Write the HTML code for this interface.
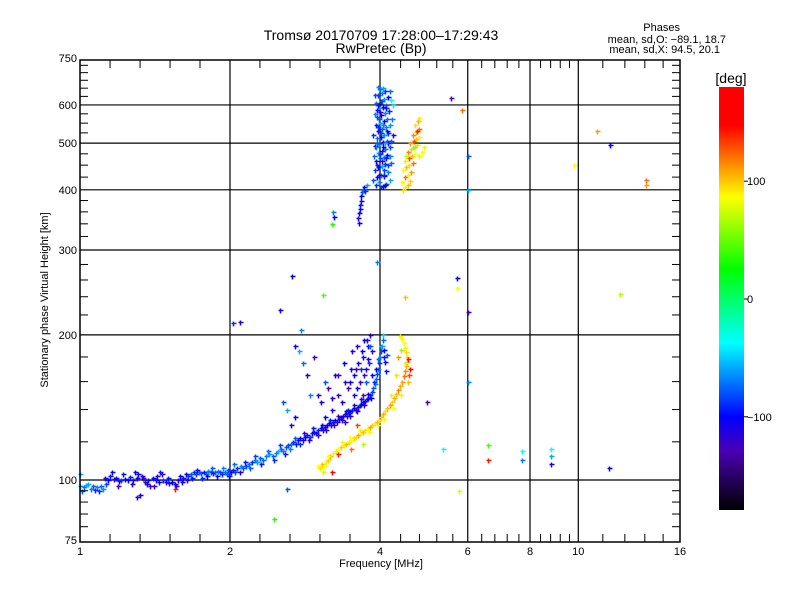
<!DOCTYPE html>
<html><head><meta charset="utf-8">
<style>
body{margin:0;background:#fff;}
svg{display:block;font-family:"Liberation Sans","DejaVu Sans",sans-serif;}
</style></head>
<body>
<svg id="chart" width="800" height="600" viewBox="0 0 800 600" xmlns="http://www.w3.org/2000/svg">
<rect width="800" height="600" fill="#fff"/>
<text x="381" y="40" font-size="14" text-anchor="middle">Tromsø 20170709 17:28:00–17:29:43</text>
<text x="381" y="53" font-size="14" text-anchor="middle">RwPretec (Bp)</text>
<g font-size="11" text-anchor="end">
<text x="680" y="31">Phases</text>
<text x="726" y="43">mean, sd,O: −89.1, 18.7</text>
<text x="720" y="53">mean, sd,X:  94.5, 20.1</text>
</g>
<g id="grid"></g>
<g id="points"></g>
<g id="axes"></g>
<text x="381" y="567" font-size="11" text-anchor="middle">Frequency [MHz]</text>
<text transform="translate(48,300) rotate(-90)" font-size="11" text-anchor="middle">Stationary phase Virtual Height [km]</text>
<defs><linearGradient id="cb" x1="0" y1="1" x2="0" y2="0">
<stop offset="0" stop-color="#000"/><stop offset="0.14" stop-color="#4a00b4"/><stop offset="0.22" stop-color="#0000ff"/>
<stop offset="0.395" stop-color="#00ffff"/><stop offset="0.57" stop-color="#00ff00"/><stop offset="0.74" stop-color="#ffff00"/>
<stop offset="0.80" stop-color="#ffa500"/><stop offset="0.91" stop-color="#ff0000"/><stop offset="1" stop-color="#ff0000"/>
</linearGradient></defs>
<rect x="719" y="87" width="25" height="423" fill="url(#cb)"/>
<text x="731" y="83" font-size="14" text-anchor="middle">[deg]</text>
<g id="cbticks" font-size="11"></g>
</svg>
<script>
const xTicks=[1,2,4,6,8,10,16];
const xMinor=[1.149,1.32,1.516,1.741,2.297,2.639,3.031,3.482,4.4,4.8,5.2,5.6,6.4,6.8,7.2,7.6,8.4,8.8,9.2,9.6,11.2,12.4,13.6,14.8];
const yTicks=[75,100,200,300,400,500,600,750];
const yMinor=[80,85,90,95,120,140,160,180,220,240,260,280,320,340,360,380,425,450,475,525,550,575,625,650,675,700,725];
const cbTicks=[100,0,-100];
const eLayerO=[[1.00,97,-70],[1.02,96.5,-75],[1.03,97.5,-60],[1.05,96,-72],[1.06,97,-80],[1.08,96.5,-70],[1.09,95,-90],[1.10,97,-75],[1.11,96,-65],[1.13,98,-85],[1.14,100,-100],[1.15,102,-95],[1.17,100.5,-110],[1.18,101,-100],[1.20,99.5,-105],[1.21,100,-90],[1.23,100.5,-110],[1.25,100,-105],[1.26,101.5,-95],[1.28,100,-110],[1.30,101,-100],[1.31,103,-105],[1.33,102,-110],[1.35,99,-115],[1.36,98,-110],[1.38,97,-120],[1.40,101,-105],[1.42,100,-100],[1.43,102,-110],[1.45,104,-95],[1.47,100,-90],[1.49,99,-105],[1.51,98.5,-110],[1.53,99,-100],[1.55,98,-105],[1.57,100,-110],[1.59,102,-100],[1.61,101,-95],[1.63,103,-105],[1.65,102,-90],[1.67,103,-80],[1.69,104,-90],[1.71,103,-85],[1.73,104,-75],[1.75,103.5,-85],[1.77,104,-95],[1.79,103,-80],[1.81,104.5,-70],[1.83,104,-85],[1.85,103.5,-95],[1.87,104,-80],[1.89,104.5,-70],[1.91,104,-85],[1.93,103,-90],[1.95,104,-75],[1.97,103,-80],[1.99,102,-95],[2.01,104,-100],[2.03,105,-95],[2.05,104,-85],[2.07,106,-90],[2.10,107,-70],[2.12,106,-80],[2.15,107,-85],[2.18,108,-75],[2.21,109,-90],[2.24,110,-70],[2.27,109,-65],[2.30,111,-80],[2.33,110,-75],[2.36,112,-70],[2.40,113,-65],[2.44,112,-80],[2.47,114,-70],[2.50,115,-60],[2.53,116,-75],[2.56,115,-70],[2.59,117,-80],[2.62,118,-85],[2.65,119,-75],[2.68,120,-90],[2.71,119,-95],[2.74,121,-100],[2.77,122,-105],[2.80,121,-110],[2.83,123,-100],[2.86,124,-95],[2.89,123,-90],[2.92,125,-105],[2.95,126,-110],[2.98,125,-100],[3.01,127,-95],[3.04,128,-105],[3.07,127,-115],[3.10,129,-110],[3.13,130,-100],[3.16,131,-105],[3.19,130,-110],[3.22,132,-115],[3.25,133,-105],[3.28,132,-110],[3.31,134,-100],[3.34,135,-105],[3.37,136,-110],[3.40,137,-115],[3.43,136,-105],[3.46,138,-110],[3.49,139,-100],[3.52,140,-95],[3.55,141,-105],[3.58,140,-110],[3.61,142,-100],[3.64,143,-95],[3.67,144,-105],[3.70,145,-110],[3.73,146,-100],[3.76,147,-95],[3.79,148,-100],[3.82,150,-90],[3.85,152,-85],[3.88,155,-80],[3.90,158,-70],[3.92,162,-75],[3.94,166,-85],[3.96,170,-65],[3.98,175,-90],[4.00,180,-70],[4.02,185,-85],[4.04,190,-60],[4.06,195,-75],[4.08,186,-100],[4.10,176,-110],[4.12,168,-95],[4.05,200,-50]];
const eLayerOExtra=[[1.01,95,-80],[1.04,98,-60],[1.07,95.5,-90],[1.12,101,-110],[1.16,104,-100],[1.19,97,-120],[1.22,103,-95],[1.27,98,-115],[1.29,104,-100],[1.34,101,-120],[1.37,100,-100],[1.41,97,-125],[1.44,99,-110],[1.46,103,-120],[1.50,101,-95],[1.56,97,-110],[1.60,99,-105],[1.64,100,-120],[1.68,101,-95],[1.72,105,-110],[1.76,101,-90],[1.80,102,-100],[1.84,106,-80],[1.88,102,-100],[1.94,106,-70],[1.98,105,-85],[2.04,108,-75],[2.09,104,-110],[2.14,109,-95],[2.19,106,-80],[2.25,112,-85],[2.31,108,-95],[2.38,115,-75],[2.45,110,-90],[2.52,118,-85],[2.58,113,-95],[2.64,116,-70],[2.70,122,-80],[2.76,119,-90],[2.82,125,-115],[2.88,121,-120],[2.94,128,-95],[3.00,124,-120],[3.06,130,-100],[3.12,127,-120],[3.18,133,-95],[3.24,130,-125],[3.30,136,-115],[3.36,133,-120],[3.42,139,-100],[3.48,136,-120],[3.54,143,-115],[3.60,139,-125],[3.66,147,-110],[3.72,143,-120],[3.78,151,-110],[3.84,148,-100],[3.89,160,-90],[3.93,170,-100],[3.97,178,-75],[4.01,190,-60],[4.07,180,-95],[4.14,182,-80]];
const eScatter=[[3.0,150,-120],[3.05,145,-110],[3.1,160,-80],[3.15,155,-130],[3.2,140,-120],[3.25,165,-100],[3.3,150,-125],[3.35,145,-110],[3.38,175,-100],[3.4,160,-120],[3.45,155,-130],[3.5,170,-110],[3.52,185,-115],[3.55,165,-100],[3.6,190,-120],[3.62,175,-105],[3.65,160,-125],[3.7,180,-110],[3.72,195,-100],[3.75,170,-115],[3.78,190,-105],[3.8,175,-90],[3.82,200,-110],[3.85,185,-120],[3.7,150,-130],[3.6,155,-100],[3.45,140,-95],[3.3,165,-130],[3.2,148,-110],[3.1,135,-100],[3.55,150,-110],[3.75,160,-80],[3.85,165,-100],[3.4,132,-120],[2.9,150,-70],[2.85,165,-110],[2.8,175,-75],[2.75,185,-60],[2.7,135,-100],[2.65,130,-120],[2.6,140,-60],[2.55,145,-80],[2.95,180,-125],[2.78,205,-70],[2.7,190,-110],[3.66,170,-90],[3.72,165,-120],[3.78,178,-110],[3.82,190,-80],[3.76,195,-120],[3.68,185,-100],[3.58,170,-120],[3.48,160,-100]];
const eLayerX=[[3.0,107,90],[3.03,106,100],[3.06,108,110],[3.09,107,85],[3.12,109,95],[3.15,110,105],[3.18,112,120],[3.22,114,95],[3.26,115,100],[3.30,116,90],[3.34,117,105],[3.38,118,95],[3.42,119,110],[3.46,120,100],[3.50,121,90],[3.54,122,105],[3.58,123,100],[3.62,124,115],[3.66,125,95],[3.70,126,110],[3.74,127,100],[3.78,128,90],[3.82,129,120],[3.86,130,105],[3.90,131,95],[3.94,132,110],[3.98,133,100],[4.02,135,105],[4.06,137,115],[4.10,139,100],[4.14,141,110],[4.18,143,120],[4.22,145,105],[4.26,148,115],[4.30,151,110],[4.34,154,125],[4.38,157,115],[4.42,160,120],[4.46,164,130],[4.50,168,125],[4.52,172,115],[4.53,176,110],[4.54,180,105],[4.52,184,100],[4.50,188,95],[4.46,192,90],[4.42,196,85],[4.38,199,95],[4.55,178,150],[4.6,170,160],[4.48,175,80],[4.40,186,60],[4.35,180,120],[3.3,113,150],[3.5,116,130],[3.7,119,70],[3.2,104,160],[3.6,130,140],[4.2,150,80],[4.3,165,100],[3.08,104,80],[3.14,112,90],[3.36,120,85],[3.48,123,90],[3.64,127,80],[3.80,126,85],[3.96,130,90],[4.08,134,85],[4.24,141,90],[4.40,150,95],[4.55,160,110],[4.58,165,140]];
const fLayerO=[[3.92,410,-90],[3.98,415,-70],[4.05,408,-100],[4.12,412,-80],[4.18,420,-60],[3.95,425,-100],[4.02,430,-75],[4.08,428,-110],[4.15,435,-70],[3.90,440,-85],[3.97,445,-100],[4.04,448,-60],[4.10,452,-90],[4.20,455,-75],[3.93,460,-110],[4.00,465,-80],[4.07,468,-70],[4.14,472,-100],[3.96,478,-60],[4.03,482,-95],[4.10,485,-75],[4.18,490,-85],[3.91,494,-100],[3.99,498,-70],[4.06,502,-105],[4.13,506,-80],[3.94,512,-75],[4.01,516,-100],[4.08,520,-65],[4.16,525,-90],[3.97,530,-110],[4.04,535,-80],[4.11,540,-70],[3.92,545,-95],[4.00,550,-60],[4.07,556,-100],[4.14,560,-75],[3.95,566,-85],[4.02,572,-105],[4.09,578,-70],[4.17,583,-90],[3.98,590,-60],[4.05,595,-100],[4.12,600,-80],[3.93,606,-75],[4.01,612,-95],[4.08,618,-65],[4.15,622,-100],[3.97,628,-85],[4.04,635,-70],[4.10,640,-90],[4.00,648,-75],[4.06,652,-60],[3.96,600,-110],[4.00,580,-120],[4.04,460,-125],[3.99,430,-115],[4.10,410,-100],[4.02,405,-90],[4.20,615,-40],[4.22,560,-70],[4.25,520,-110],[4.24,600,-45],[3.94,585,-100],[3.96,540,-90],[4.06,490,-100],[4.00,475,-90],[4.12,465,-95],[4.08,440,-85],[3.94,450,-95],[4.16,500,-105],[4.02,525,-85],[3.88,420,-80],[3.89,470,-75],[3.88,520,-90],[3.90,575,-70],[3.91,630,-85],[4.19,470,-70],[4.21,505,-80],[4.19,545,-65],[4.18,640,-75],[3.95,500,-80],[4.05,545,-70],[3.99,560,-80],[4.11,590,-95],[4.04,610,-80],[3.96,655,-70],[4.09,500,-60],[4.13,530,-100],[4.07,430,-90],[3.93,490,-70],[4.16,450,-85],[3.62,350,-110],[3.63,358,-100],[3.64,365,-105],[3.65,372,-95],[3.66,380,-110],[3.67,388,-100],[3.68,395,-85],[3.70,400,-70],[3.72,405,-100],[3.74,398,-90],[3.76,410,-60],[3.63,342,-100],[3.22,360,-70],[3.24,352,-100],[3.2,340,30]];
const fLayerX=[[4.45,400,100],[4.50,405,95],[4.55,410,110],[4.42,415,90],[4.60,418,105],[4.48,425,130],[4.55,430,95],[4.62,435,120],[4.45,440,85],[4.52,445,110],[4.58,450,100],[4.65,455,130],[4.50,460,95],[4.57,465,140],[4.64,470,110],[4.70,475,90],[4.55,480,125],[4.62,485,105],[4.68,490,135],[4.75,495,100],[4.60,500,120],[4.67,505,140],[4.73,510,110],[4.80,515,95],[4.65,520,125],[4.72,528,105],[4.78,535,130],[4.70,545,100],[4.76,555,115],[4.80,565,95],[4.68,490,60],[4.80,470,80],[4.85,480,90],[4.90,490,95],[4.52,470,75],[4.75,530,150]];
const outliers=[[2.52,225,-110],[2.66,265,-100],[3.07,242,40],[2.03,212,-90],[2.09,213,-110],[5.55,620,-130],[5.85,585,130],[6.0,470,-80],[6.0,400,-60],[5.7,262,-100],[5.7,250,90],[6.0,223,-125],[6.0,160,-70],[4.96,145,-130],[5.35,116,-40],[5.75,95,80],[6.6,118,40],[6.6,110,150],[7.7,115,-40],[7.72,110,-70],[8.8,116,-40],[8.8,112,-60],[8.82,108,-110],[11.5,106,-100],[10.9,530,120],[11.6,495,-100],[9.8,450,90],[13.7,420,130],[13.7,410,120],[12.1,243,70],[2.45,83,30],[4.5,240,110],[3.95,283,-70],[1.55,96,150],[2.6,96,-80],[1.3,92,-120],[1.32,93,-110],[1.0,103,-60]];

const X=f=>80+150*Math.log2(f);
const Y=h=>480-482*Math.log10(h/100);
const SVGNS="http://www.w3.org/2000/svg";
function el(tag,attrs,parent){const e=document.createElementNS(SVGNS,tag);for(const k in attrs)e.setAttribute(k,attrs[k]);parent.appendChild(e);return e;}
const stops=[[-180,[0,0,0]],[-130,[74,0,180]],[-100,[0,0,255]],[-40,[0,255,255]],[20,[0,255,0]],[90,[255,255,0]],[118,[255,165,0]],[155,[255,0,0]],[180,[255,0,0]]];
function col(p){p=Math.max(-180,Math.min(180,p));for(let i=1;i<stops.length;i++){if(p<=stops[i][0]){const a=stops[i-1],b=stops[i],t=(p-a[0])/(b[0]-a[0]);return 'rgb('+a[1].map((v,j)=>Math.round(v+(b[1][j]-v)*t)).join(',')+')';}}return 'red';}

const grid=document.getElementById('grid'),axes=document.getElementById('axes'),pts=document.getElementById('points'),cbt=document.getElementById('cbticks');
const L=80,R=680,T=60,B=542;
xTicks.slice(1,-1).forEach(f=>{const l=el('line',{x1:X(f),x2:X(f),y1:T,y2:B,stroke:'#000','stroke-width':1.2},grid);

});
yTicks.slice(1,-1).forEach(h=>{const l=el('line',{x1:L,x2:R,y1:Y(h),y2:Y(h),stroke:'#000','stroke-width':1.2},grid);

});
const frame=el('rect',{x:L,y:T,width:R-L,height:B-T,fill:'none',stroke:'#000','stroke-width':1.5},axes);


xTicks.forEach(f=>{const t=el('text',{x:X(f),y:B+13,'font-size':11,'text-anchor':'middle'},axes);t.textContent=f;

});
xMinor.forEach(f=>{el('line',{x1:X(f),x2:X(f),y1:B,y2:B-8,stroke:'#000'},axes);el('line',{x1:X(f),x2:X(f),y1:T,y2:T+8,stroke:'#000'},axes);});
yTicks.forEach(h=>{const t=el('text',{x:L-3,y:Y(h)+4,'font-size':11,'text-anchor':'end'},axes);t.textContent=h;

});
yMinor.forEach(h=>{el('line',{x1:L,x2:L+8,y1:Y(h),y2:Y(h),stroke:'#000'},axes);el('line',{x1:R,x2:R-8,y1:Y(h),y2:Y(h),stroke:'#000'},axes);});
const groups=[['e-layer-o',eLayerO],['e-layer-o-extra',eLayerOExtra],['e-scatter',eScatter],['e-layer-x',eLayerX],['f-layer-o',fLayerO],['f-layer-x',fLayerX],['outlier',outliers]];
groups.forEach(([name,arr])=>arr.forEach(([f,h,p])=>{const x=Math.round(X(f))+0.5,y=Math.round(Y(h))+0.5;
const m=el('path',{d:`M${x-2} ${y}h5M${x} ${y-2}v5`,stroke:col(p),'stroke-width':1.5},pts);

}));
cbTicks.forEach(p=>{const y=299-1.178*p;el('line',{x1:744,x2:748,y1:y,y2:y,stroke:'#000'},cbt);
const t=el('text',{x:747,y:y+4,'font-size':11},cbt);t.textContent=p<0?'−'+(-p):p;

});
</script>
</body></html>
